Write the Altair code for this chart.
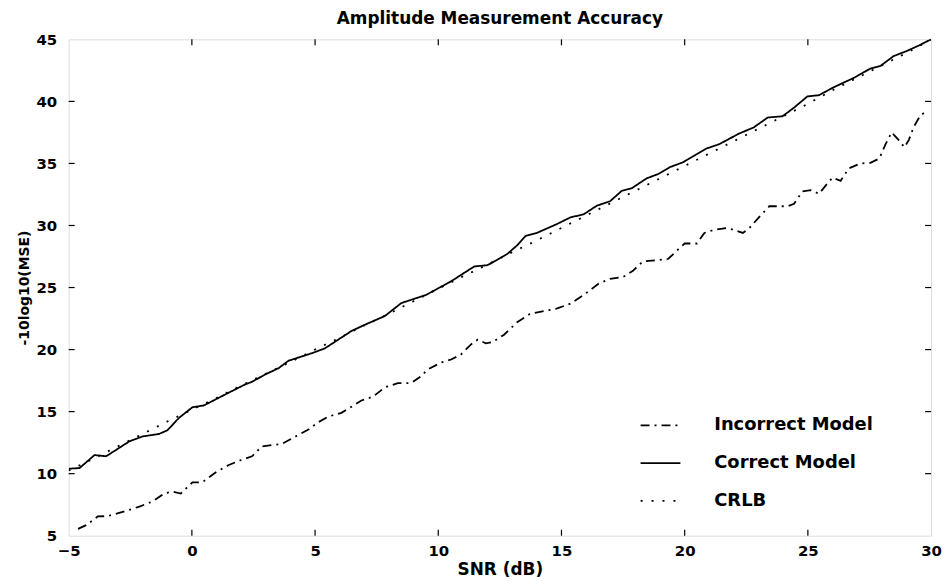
import altair as alt
import pandas as pd

# Incorrect model (dash-dot)
inc_x = [-4.62, -4.29, -3.82, -3.41, -2.67, -2.13, -1.6, -1.12, -0.79, -0.45, 0.02, 0.42, 0.96, 1.5, 2.0,
         2.44, 2.84, 3.65, 4.26, 4.73, 5.13, 5.54, 6.07, 6.48, 6.88, 7.35, 7.83, 8.36, 8.9, 9.3, 9.57,
         10.11, 10.52, 10.92, 11.32, 11.6, 11.93, 12.2, 12.67, 13.2, 13.74, 14.28, 14.8, 15.36, 15.9,
         16.5, 16.97, 17.5, 17.9, 18.3, 18.86, 19.33, 19.67, 20.0, 20.5, 20.8, 21.2, 21.75, 22.36, 22.63,
         23.03, 23.44, 23.7, 24.18, 24.44, 24.78, 25.12, 25.45, 25.8, 26.0, 26.33, 26.66, 27.14, 27.54,
         27.9, 28.14, 28.4, 28.68, 28.92, 29.1, 29.3, 29.56, 29.8]
inc_y = [5.55, 5.85, 6.55, 6.58, 7.0, 7.35, 7.75, 8.4, 8.55, 8.4, 9.3, 9.3, 10.1, 10.7, 11.1,
         11.4, 12.2, 12.4, 13.05, 13.55, 14.15, 14.6, 14.9, 15.4, 15.9, 16.2, 16.95, 17.3, 17.3, 17.85, 18.4,
         18.95, 19.2, 19.6, 20.4, 20.8, 20.5, 20.6, 21.2, 22.2, 22.9, 23.1, 23.3, 23.7, 24.4,
         25.3, 25.7, 25.85, 26.35, 27.1, 27.2, 27.3, 27.95, 28.55, 28.55, 29.4, 29.65, 29.8, 29.4, 29.8,
         30.7, 31.55, 31.55, 31.55, 31.75, 32.75, 32.85, 32.55, 33.4, 33.85, 33.6, 34.6, 35.0, 35.05,
         35.4, 36.5, 37.5, 36.9, 36.3, 36.9, 37.95, 38.85, 39.2]

# Correct model (solid)
cor_x = [-5.0, -4.56, -3.95, -3.48, -2.54, -2.0, -1.33, -0.99, -0.52, 0.02, 0.49, 1.37, 2.17, 2.44, 2.98,
         3.52, 3.92, 4.86, 5.4, 5.94, 6.48, 7.02, 7.83, 8.5, 9.04, 9.5, 10.52, 11.46, 12.0, 12.8, 13.2,
         13.54, 14.0, 14.8, 15.36, 15.9, 16.44, 16.97, 17.45, 17.85, 18.46, 18.93, 19.4, 19.94, 20.88,
         21.4, 22.2, 22.8, 23.37, 23.97, 24.44, 24.98, 25.45, 26.06, 26.87, 27.54, 27.94, 28.48, 29.0,
         29.5, 30.0]
cor_y = [10.4, 10.45, 11.5, 11.4, 12.6, 13.0, 13.2, 13.5, 14.5, 15.35, 15.5, 16.4, 17.2, 17.4, 18.0,
         18.5, 19.1, 19.7, 20.1, 20.8, 21.5, 22.0, 22.7, 23.75, 24.1, 24.4, 25.5, 26.7, 26.8, 27.7, 28.4,
         29.15, 29.4, 30.1, 30.65, 30.9, 31.6, 31.95, 32.8, 33.0, 33.8, 34.15, 34.7, 35.1, 36.2,
         36.55, 37.4, 37.9, 38.7, 38.8, 39.5, 40.4, 40.5, 41.15, 41.9, 42.65, 42.85, 43.65, 44.05,
         44.5, 45.0]

# CRLB (dotted)
crlb_x = [-5, -4, -3, -2, -1, 0, 1, 2, 3, 4, 5, 6, 7, 8, 9, 10, 11, 12, 13, 14, 15, 16, 17, 18,
          19, 20, 21, 22, 23, 24, 25, 26, 27, 28, 29, 30]
crlb_y = [10.25, 11.2, 12.2, 13.2, 14.2, 15.15, 16.1, 17.1, 18.05, 19.0, 20.0, 20.95, 21.95, 22.9, 23.9,
          24.9, 25.9, 26.85, 27.85, 28.8, 29.8, 30.8, 31.8, 32.8, 33.8, 34.8, 35.8, 36.8, 37.8, 38.8,
          39.8, 40.9, 41.9, 42.9, 43.9, 45.0]

series_names = ["Incorrect Model", "Correct Model", "CRLB"]
x_ticks = [-5, 0, 5, 10, 15, 20, 25, 30]
y_ticks = [5, 10, 15, 20, 25, 30, 35, 40, 45]
x_inner = [0, 5, 10, 15, 20, 25]
y_inner = [10, 15, 20, 25, 30, 35, 40]

W, H = 867, 499
FONT = "DejaVu Sans"

frames = []
for name, xs, ys in [(series_names[0], inc_x, inc_y), (series_names[1], cor_x, cor_y),
                     (series_names[2], crlb_x, crlb_y)]:
    frames.append(pd.DataFrame({"snr": xs, "val": ys, "series": name, "order": range(len(xs))}))
df = pd.concat(frames, ignore_index=True)

xscale = alt.Scale(domain=[-5, 30], nice=False, zero=False)
yscale = alt.Scale(domain=[5, 45], nice=False, zero=False)

lines = alt.Chart(df).mark_line(color="black", strokeWidth=1.8, clip=True).encode(
    x=alt.X("snr:Q", scale=xscale, title="SNR (dB)",
            axis=alt.Axis(values=x_ticks, grid=False, ticks=False, domain=False, labelPadding=8,
                          labelFont=FONT, labelFontSize=15, labelFontWeight="bold", labelColor="black",
                          titleFont=FONT, titleFontSize=17, titleFontWeight="bold", titleColor="black",
                          titlePadding=3, labelFlush=False)),
    y=alt.Y("val:Q", scale=yscale, title="-10log10(MSE)",
            axis=alt.Axis(values=y_ticks, grid=False, ticks=False, domain=False, labelPadding=12,
                          labelFont=FONT, labelFontSize=15, labelFontWeight="bold", labelColor="black",
                          titleFont=FONT, titleFontSize=14, titleFontWeight="bold", titleColor="black",
                          titlePadding=5, labelFlush=False)),
    strokeDash=alt.StrokeDash("series:N",
        scale=alt.Scale(domain=series_names, range=[[9, 5, 2, 5], [1, 0], [2, 9]]),
        legend=alt.Legend(title=None, orient="none", legendX=574, legendY=367,
                          symbolType="stroke", symbolSize=1600, symbolStrokeWidth=1.8,
                          symbolStrokeColor="black", labelFont=FONT, labelFontSize=18,
                          labelFontWeight="bold", labelColor="black", labelOffset=33,
                          rowPadding=8)),
    detail="series:N",
    order="order:Q",
)

tick_x = pd.DataFrame({"snr": x_inner})
tick_y = pd.DataFrame({"val": y_inner})

bottom_ticks = alt.Chart(tick_x).mark_rule(color="black", strokeWidth=1.2).encode(
    x=alt.X("snr:Q", scale=xscale), y=alt.value(H), y2=alt.value(H - 6))
top_ticks = alt.Chart(tick_x).mark_rule(color="black", strokeWidth=1.2).encode(
    x=alt.X("snr:Q", scale=xscale), y=alt.value(0), y2=alt.value(6))
left_ticks = alt.Chart(tick_y).mark_rule(color="black", strokeWidth=1.2).encode(
    y=alt.Y("val:Q", scale=yscale), x=alt.value(0), x2=alt.value(6))
right_ticks = alt.Chart(tick_y).mark_rule(color="black", strokeWidth=1.2).encode(
    y=alt.Y("val:Q", scale=yscale), x=alt.value(W), x2=alt.value(W - 6))

chart = alt.layer(lines, bottom_ticks, top_ticks, left_ticks, right_ticks).properties(
    width=W, height=H,
    title=alt.TitleParams("Amplitude Measurement Accuracy", font=FONT, fontSize=17,
                          fontWeight="bold", color="black", offset=4),
    autosize=alt.AutoSizeParams(type="none"),
    padding={"left": 61, "top": 30, "right": 12, "bottom": 42},
).configure_view(stroke="black", strokeWidth=1.5).configure(background="white")

chart.save("out.html", embed_options={"renderer": "svg", "actions": False})
